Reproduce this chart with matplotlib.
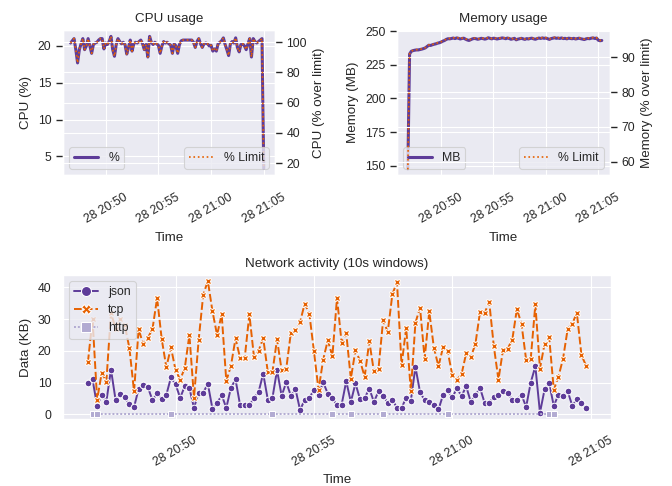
import matplotlib
matplotlib.use('Agg')
import matplotlib.pyplot as plt
import matplotlib.dates as mdates
import pandas as pd
import seaborn as sns

sns.set_theme(context='paper', style='darkgrid')
plt.rcParams['font.family'] = ['Liberation Sans', 'DejaVu Sans']
# tick marks stay hidden on x, but keep their length in the label offset
plt.rcParams['xtick.major.size'] = 4.8
plt.rcParams['ytick.major.size'] = 4.8

DAY = '2024-05-28 '

# CPU usage (%), one sample per 10 s from 20:46:40
cpu_pct = [20.4, 20.7, 21.0, 19.5, 17.7, 19.5, 20.3, 21.0, 19.5, 20.0,
           21.0, 20.0, 19.0, 20.2, 20.4, 20.5, 20.8, 21.0, 21.0, 19.6,
           20.4, 20.2, 20.6, 21.3, 19.5, 18.6, 20.2, 21.0, 20.6, 20.3,
           20.5, 20.2, 18.9, 19.8, 20.8, 19.3, 20.3, 20.5, 20.4, 20.6,
           20.8, 20.3, 19.5, 20.2, 18.5, 21.3, 20.5, 20.2, 20.5, 20.3,
           20.1, 19.0, 20.0, 20.6, 20.4, 20.5, 20.3, 20.1, 19.0, 20.3,
           20.0, 19.0, 20.2, 20.7, 20.8, 20.8, 20.8, 20.8, 20.8, 20.8,
           20.5, 19.8, 20.6, 21.0, 20.3, 19.8, 20.3, 20.4, 20.3, 20.0,
           20.1, 19.3, 19.6, 19.3, 20.3, 20.5, 20.7, 21.1, 20.2, 19.5,
           18.7, 20.3, 20.6, 20.4, 21.1, 19.8, 19.2, 20.2, 20.3, 20.0,
           19.5, 20.3, 21.0, 18.5, 21.0, 20.6, 20.4, 20.6, 20.8, 21.0,
           3.36]
CPU_LIMIT = 20.5

# memory usage (MB), one sample per 10 s from 20:46:50
mem_mb = [148.0, 233.0, 235.0, 235.5, 235.8, 236.0, 236.0, 236.3, 236.6, 237.0,
          237.5, 238.5, 239.5, 239.3, 239.8, 240.2, 240.5, 241.0, 241.3, 241.8,
          242.5, 243.0, 243.8, 244.3, 244.2,
          244.5, 244.8, 244.4, 244.9, 244.6, 244.1, 244.5, 244.7, 244.0, 243.4,
          243.0, 243.6, 244.2, 244.5, 244.3, 243.9, 244.2, 244.6, 244.4, 244.0,
          244.3, 245.0, 244.6, 244.2, 244.7, 244.5, 244.1, 244.4, 244.6, 244.9,
          244.7, 244.3, 244.8, 244.5, 243.9, 244.2, 244.6, 243.5, 244.0, 244.3,
          244.6, 244.2, 243.8, 244.4, 244.1, 244.5, 244.7, 244.2, 243.9, 244.4,
          244.8, 244.5, 244.9, 244.6, 244.8, 244.3, 243.8, 244.4, 244.7, 245.0,
          244.6, 244.8, 244.5, 244.9, 244.4, 244.6, 244.2, 244.7, 244.5, 244.3,
          244.6, 244.1, 244.4, 244.7, 244.3, 244.0, 243.7, 244.2, 244.5, 244.3,
          244.7, 244.9, 244.5, 244.8, 243.2, 242.8, 243.0]
MEM_LIMIT = 256.0

# network activity (KB per 10 s window) from 20:46:50
json_kb = [9.8, 11.0, 2.6, 6.1, 4.0, 14.1, 4.5, 6.3, 5.3, 3.1,
           2.2, 8.1, 9.2, 8.5, 4.4, 6.6, 4.8, 6.1, 11.6, 9.4,
           5.2, 8.8, 8.2, 2.0, 6.8, 6.8, 9.6, 1.7, 3.5, 6.0,
           2.0, 8.3, 11.0, 2.8, 2.8, 2.8, 5.1, 7.0, 12.8, 4.6,
           5.1, 13.9, 5.8, 10.1, 5.8, 7.9, 1.3, 4.6, 5.2, 7.6,
           6.0, 10.1, 6.5, 5.1, 2.8, 3.0, 10.4, 3.9, 9.7, 4.7,
           5.1, 8.1, 3.9, 7.2, 5.8, 3.6, 4.6, 2.0, 2.0, 5.2,
           4.2, 14.9, 7.0, 4.4, 3.9, 2.8, 1.5, 6.1, 7.5, 5.3,
           8.2, 5.7, 8.8, 3.9, 6.0, 8.3, 3.6, 3.6, 5.5, 6.0,
           7.3, 6.7, 4.6, 4.6, 6.1, 2.3, 10.0, 15.1, 0.5, 7.8,
           9.8, 2.6, 6.2, 5.9, 7.3, 2.7, 4.7, 3.5, 2.1]
tcp_kb = [16.4, 30.0, 4.6, 13.1, 10.3, 32.0, 27.0, 30.0, 28.0, 20.8,
          7.2, 26.8, 22.0, 24.1, 26.9, 36.6, 23.7, 14.8, 21.1, 13.9,
          10.9, 14.6, 25.0, 5.2, 23.3, 37.7, 42.0, 32.5, 25.0, 31.5,
          10.5, 15.2, 23.9, 17.7, 17.8, 31.5, 18.1, 20.0, 24.0, 13.3,
          13.3, 23.6, 13.9, 14.4, 25.7, 26.5, 29.1, 34.9, 31.7, 19.9,
          7.6, 17.2, 23.3, 18.3, 36.7, 22.5, 25.6, 11.2, 20.2, 16.8,
          11.8, 23.0, 13.5, 14.4, 29.7, 25.9, 37.8, 41.7, 15.4, 27.3,
          7.3, 28.8, 33.6, 17.5, 32.4, 21.0, 15.1, 21.2, 19.8, 12.3,
          10.9, 12.6, 19.2, 18.0, 22.1, 32.2, 31.9, 35.4, 21.4, 10.9,
          20.4, 20.7, 23.5, 33.2, 28.4, 17.2, 17.5, 34.6, 14.4, 22.2,
          24.2, 7.7, 11.8, 17.5, 26.8, 28.6, 31.9, 18.6, 15.3]
http_times = ['20:47:00', '20:47:10', '20:49:50', '20:53:30', '20:55:40',
              '20:56:20', '20:57:30', '20:59:50', '21:03:30', '21:03:40']
http_kb = [0.2, 0.2, 0.2, 0.2, 0.2, 0.2, 0.2, 0.2, 0.2, 0.2]

PURPLE = '#5e3c99'
ORANGE = '#e66101'
LAVENDER = '#b2abd2'

cpu_time = pd.date_range(DAY + '20:46:40', periods=len(cpu_pct), freq='10s')
mem_time = pd.date_range(DAY + '20:46:50', periods=len(mem_mb), freq='10s')
net_time = pd.date_range(DAY + '20:46:50', periods=len(json_kb), freq='10s')
http_time = pd.to_datetime([DAY + t for t in http_times])

cpu_over = [v / CPU_LIMIT * 100 for v in cpu_pct]
mem_over = [v / MEM_LIMIT * 100 for v in mem_mb]

fig = plt.figure(figsize=(6.72, 4.86), dpi=100)
W, H = 672., 486.


def px_axes(x0, y0, x1, y1):
    return fig.add_axes([x0 / W, 1 - y1 / H, (x1 - x0) / W, (y1 - y0) / H])


def fmt_time(ax, pad):
    ax.xaxis.set_major_locator(mdates.MinuteLocator(byminute=range(0, 60, 5)))
    ax.xaxis.set_major_formatter(mdates.DateFormatter('%d %H:%M'))
    ax.tick_params(axis='x', pad=pad)
    plt.setp(ax.get_xticklabels(), rotation=30)
    ax.set_xlabel('Time')


# CPU
ax = px_axes(63, 30.5, 275, 175)
ax.plot(cpu_time, cpu_pct, color=PURPLE, lw=2.2, label='%')
ax2 = ax.twinx()
ax2.plot(cpu_time, cpu_over, color=ORANGE, lw=1.2, ls=':', label='% Limit')
ax.set_xlim(pd.Timestamp(DAY + '20:45:57'), pd.Timestamp(DAY + '21:06:04'))
ax.set_ylim(2.48, 22.1)
ax2.set_ylim(12.07, 107.8)
ax.set_yticks([5, 10, 15, 20])
ax2.set_yticks([20, 40, 60, 80, 100])
ax.set_title('CPU usage')
ax.set_ylabel('CPU (%)')
ax2.set_ylabel('CPU (% over limit)')
ax.legend(loc='lower left')
ax2.legend(loc='lower right')
fmt_time(ax, 7.3)

# Memory
ax = px_axes(397, 30.5, 610, 175)
ax.plot(mem_time, mem_mb, color=PURPLE, lw=2.2, label='MB')
ax2 = ax.twinx()
ax2.plot(mem_time, mem_over, color=ORANGE, lw=1.2, ls=':', label='% Limit')
ax.set_xlim(pd.Timestamp(DAY + '20:45:48'), pd.Timestamp(DAY + '21:06:07'))
ax.set_ylim(143.3, 250.4)
ax2.set_ylim(56.2, 97.7)
ax.set_yticks([150, 175, 200, 225, 250])
ax2.set_yticks([60, 70, 80, 90])
ax.set_title('Memory usage')
ax.set_ylabel('Memory (MB)')
ax2.set_ylabel('Memory (% over limit)')
ax.legend(loc='lower left')
ax2.legend(loc='lower right')
fmt_time(ax, 7.3)

# Network
ax = px_axes(63, 275, 611, 419.3)
ax.plot(net_time, json_kb, color=PURPLE, lw=1.4, marker='o', ms=4.8,
        mec='white', mew=0.75, label='json')
ax.plot(net_time, tcp_kb, color=ORANGE, lw=1.4, dashes=(4, 1.5), marker='X',
        ms=4.8, mec='white', mew=0.75, label='tcp')
ax.plot(http_time, http_kb, color=LAVENDER, lw=1.4, dashes=(1, 1), marker='s',
        ms=4.8, mec='white', mew=0.75, label='http')
ax.set_ylim(-1.6, 43.9)
ax.set_yticks([0, 10, 20, 30, 40])
ax.set_title('Network activity (10s windows)')
ax.set_ylabel('Data (KB)')
ax.legend(loc='upper left', markerscale=1.5)
fmt_time(ax, 5.8)

fig.savefig('out.png', dpi=100)
